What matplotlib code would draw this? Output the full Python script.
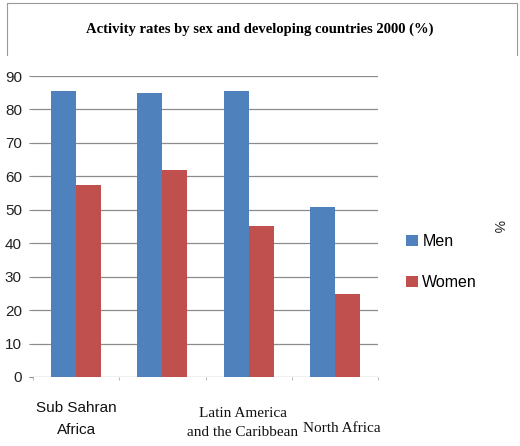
import numpy as np
import matplotlib.pyplot as plt
from matplotlib.lines import Line2D
import matplotlib.transforms as mtransforms

# Activity rates by sex
regions = ["Sub Sahran\nAfrica", "", "Latin America\nand the Caribbean", "North Africa"]
men = [85.6, 85.0, 85.6, 50.9]
women = [57.3, 61.9, 45.1, 24.7]
yticks = [0, 10, 20, 30, 40, 50, 60, 70, 80, 90]

blue = "#4f81bd"
red = "#c0504d"
grid_col = "#8c8c8c"
sans = ["Liberation Sans", "DejaVu Sans"]

fig = plt.figure(figsize=(5.2, 4.46), dpi=100)
ax = fig.add_axes([33 / 520, 1 - 377 / 446, 345 / 520, 301 / 446])

x = np.arange(len(regions))
w = 0.29
ax.bar(x - w / 2, men, w, color=blue, label="Men", zorder=3)
ax.bar(x + w / 2, women, w, color=red, label="Women", zorder=3)

ax.set_xlim(-0.5, len(regions) - 0.5)
ax.set_ylim(0, 90)
ax.set_yticks(yticks)
ax.set_yticklabels([str(t) for t in yticks], fontsize=11, family=sans, color="#222222")
ax.yaxis.grid(True, color=grid_col, linewidth=0.9, zorder=0)
ax.tick_params(axis="y", length=3, color=grid_col, pad=5)

# ticks between groups, no labels
ax.set_xticks(np.arange(len(regions) + 1) - 0.5)
ax.set_xticklabels([])
ax.tick_params(axis="x", length=2, color="#bbbbbb", direction="out", pad=2)
for s in ax.spines.values():
    s.set_visible(False)

# category labels, placed like the original
trans = mtransforms.blended_transform_factory(ax.transData, fig.transFigure)
label_y = [1 - 419 / 446, 0, 1 - 423 / 446, 1 - 428 / 446]
label_dx = [0, 0, -0.07, 0.08]
label_font = [sans, ["Liberation Serif"], ["Liberation Serif"], ["Liberation Serif"]]
label_size = [11, 0, 11, 11]
for i, lab in enumerate(regions):
    if lab:
        ax.text(x[i] + label_dx[i], label_y[i], lab, transform=trans, ha="center",
                va="center", fontsize=label_size[i], family=label_font[i],
                linespacing=1.75 if i == 0 else 1.55, color="#111111")

leg = fig.legend(loc="center left", bbox_to_anchor=(392 / 520, 1 - 262 / 446),
                 frameon=False, handlelength=0.7, handleheight=0.7,
                 handletextpad=0.3, labelspacing=1.6,
                 prop={"family": sans, "size": 11.5})

fig.text(498 / 520, 1 - 226 / 446, "%", rotation=-90, ha="center", va="center",
         fontsize=10, color="#222222", family=sans)

fig.text(0.5, 1 - 29 / 446, "Activity rates by sex and developing countries 2000 (%)",
         ha="center", va="center", fontsize=10.5, fontweight="bold",
         family="Liberation Serif")

# thin open frame at the top of the picture (top and sides only)
fx = [7 / 520, 7 / 520, 517 / 520, 517 / 520]
fy = [1 - 55 / 446, 1 - 3 / 446, 1 - 3 / 446, 1 - 55 / 446]
fig.lines.append(Line2D(fx, fy, transform=fig.transFigure, color="#999999", linewidth=0.8))

fig.savefig("out.png", dpi=100)
